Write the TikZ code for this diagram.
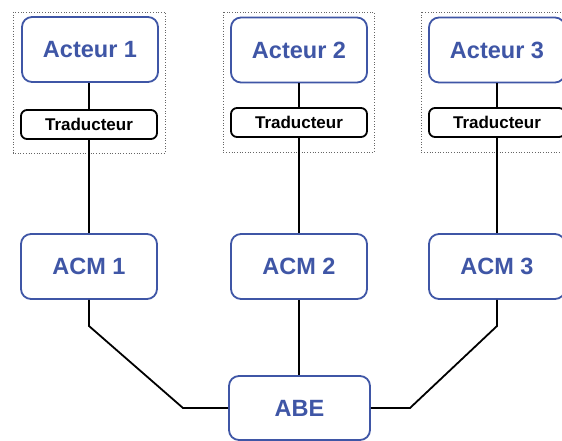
\documentclass[tikz,border=0pt]{standalone}
\usepackage{fontspec}
\setmainfont{Liberation Sans}
\definecolor{boxblue}{HTML}{3F56A6}
\begin{document}
\begin{tikzpicture}[x=1pt,y=-1pt,
  agent/.style={draw=boxblue, line width=1.8pt, rounded corners=10pt, fill=white,
    minimum width=136pt, minimum height=65pt, text=boxblue,
    font=\fontsize{23.5}{26}\selectfont\bfseries, inner sep=0pt},
  trans/.style={draw=black, line width=1.8pt, rounded corners=6pt, fill=white,
    minimum width=136pt, minimum height=29pt,
    font=\fontsize{17}{19}\selectfont\bfseries, inner sep=0pt},
  group/.style={draw=black!60, line width=0.7pt, dotted},
  link/.style={draw=black, line width=1.8pt}]
\clip (0,0) rectangle (562,440);
\useasboundingbox (0,0) rectangle (562,440);

% dotted frames around each actor and its translator
\draw[group] (13,12) rectangle (165,153);
\draw[group] (223,12) rectangle (374,152);
\draw[group] (421,12) rectangle (575,152);

% actors
\node[agent] (act1) at (90,49.5) {Acteur 1};
\node[agent] (act2) at (299,50) {Acteur 2};
\node[agent] (act3) at (497,50) {Acteur 3};

% translators
\node[trans] (tr1) at (89,124.5) {Traducteur};
\node[trans] (tr2) at (299,122.5) {Traducteur};
\node[trans] (tr3) at (497,122.5) {Traducteur};

% ACM layer
\node[agent] (acm1) at (89,266.5) {ACM 1};
\node[agent] (acm2) at (299,266.5) {ACM 2};
\node[agent] (acm3) at (497,266.5) {ACM 3};

% ABE
\node[agent, minimum width=141pt, minimum height=64pt] (abe) at (299.5,408) {ABE};

% bend points of the side connectors
\coordinate (l1) at (89,326);
\coordinate (l2) at (183,408);
\coordinate (r1) at (497,326);
\coordinate (r2) at (410,408);

\draw[link] (act1.south -| tr1) -- (tr1.north);
\draw[link] (act2.south) -- (tr2.north);
\draw[link] (act3.south) -- (tr3.north);
\draw[link] (tr1.south) -- (acm1.north);
\draw[link] (tr2.south) -- (acm2.north);
\draw[link] (tr3.south) -- (acm3.north);
\draw[link] (acm2.south) -- (abe.north -| acm2.south);
\draw[link] (acm1.south) -- (l1) -- (l2) -- (abe.west);
\draw[link] (acm3.south) -- (r1) -- (r2) -- (abe.east);
\end{tikzpicture}
\end{document}
